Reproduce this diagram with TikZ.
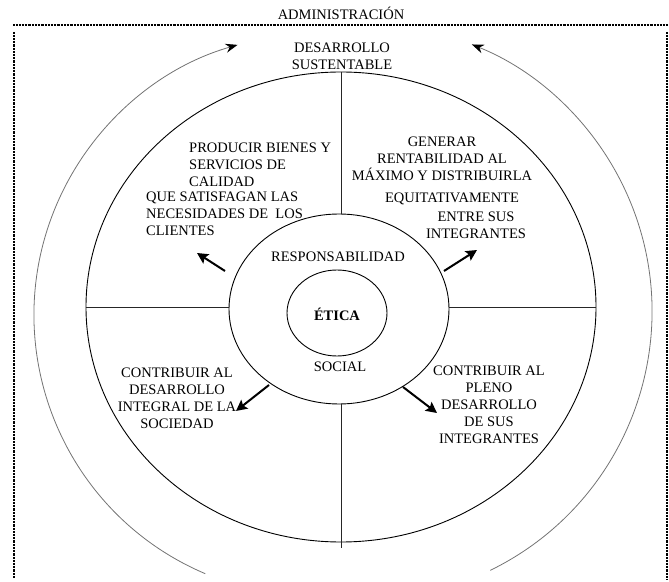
\documentclass[tikz,border=0pt]{standalone}
\usepackage{fontspec}
\setmainfont{Liberation Serif}
\usetikzlibrary{shapes.geometric,arrows.meta}
\begin{document}
\begin{tikzpicture}[x=1pt,y=1pt,
  lbl/.style={font=\fontsize{14.5}{17}\selectfont, inner sep=0pt, align=center},
  lbll/.style={font=\fontsize{14.5}{17}\selectfont, inner sep=0pt, align=left, anchor=west},
  ring/.style={draw=black, line width=0.9pt, ellipse, inner sep=0pt},
  divider/.style={draw=black!85, line width=0.9pt},
  frameline/.style={draw=black, line width=1.7pt, dash pattern=on 1pt off 0.45pt},
  cyclearc/.style={draw=black!55, line width=0.8pt, -{Stealth[length=12pt,width=9pt,black]}},
  outarrow/.style={draw=black, line width=2pt, -{Stealth[length=11pt,width=11pt,inset=2pt]}}
]
\useasboundingbox (0,0) rectangle (669,581);

% frame
\node[lbl] (admin) at (341,568) {ADMINISTRACIÓN};
\coordinate (ftl) at (13,556);
\coordinate (ftr) at (667,556);
\coordinate (fl1) at (14,549);
\coordinate (fl2) at (14,3);
\coordinate (fr1) at (667,549);
\coordinate (fr2) at (667,1);
\draw[frameline] (ftl) -- (ftr);
\draw[frameline] (fl1) -- (fl2);
\draw[frameline] (fr1) -- (fr2);

% outer cycle arcs
\coordinate (lc) at (315,266);
\coordinate (rc) at (364,269.5);
\path (lc) ++(247:281pt) coordinate (lArcS);
\path (rc) ++(-64:288pt) coordinate (rArcS);
\draw[cyclearc] (lArcS) arc[start angle=247, end angle=106, radius=281pt];
\draw[cyclearc] (rArcS) arc[start angle=-64, end angle=68, radius=288pt];

% ellipses
\node[ring, minimum width=510pt, minimum height=470pt] (outer) at (341,274) {};
\node[ring, minimum width=220pt, minimum height=190pt] (mid) at (339,272) {};
\node[ring, minimum width=100pt, minimum height=86pt] (inner) at (337,268) {};

% dividers
\coordinate (vbot) at (341,33);
\draw[divider] (outer.north) -- (outer.north |- mid.north);
\draw[divider] (outer.south |- mid.south) -- (vbot);
\draw[divider] (outer.west) -- (outer.west -| mid.west);
\draw[divider] (outer.east) -- (outer.east -| mid.east);

% labels
\node[lbl] (sust) at (342,525) {DESARROLLO\\SUSTENTABLE};
\node[lbll] (prod) at (189,416.5) {PRODUCIR BIENES Y\\SERVICIOS DE\\CALIDAD};
\node[lbll] (satis) at (146,367) {QUE SATISFAGAN LAS\\NECESIDADES DE\ \ LOS\\CLIENTES};
\node[lbl] (gen) at (442,422.5) {GENERAR\\RENTABILIDAD AL\\MÁXIMO Y DISTRIBUIRLA};
\node[lbl] (equi) at (452,382) {EQUITATIVAMENTE};
\node[lbl] (entre) at (476,356) {ENTRE SUS\\INTEGRANTES};
\node[lbl] (resp) at (338,324) {RESPONSABILIDAD};
\node[lbl, font=\fontsize{14.5}{17}\selectfont\bfseries] (etica) at (337,267) {ÉTICA};
\node[lbl] (social) at (340,214) {SOCIAL};
\node[lbl] (socied) at (177,183) {CONTRIBUIR AL\\DESARROLLO\\INTEGRAL DE LA\\SOCIEDAD};
\node[lbl] (pleno) at (489,176) {CONTRIBUIR AL\\PLENO\\DESARROLLO\\DE SUS\\INTEGRANTES};

% arrows out of the social ring
\coordinate (tlS) at (225,310);
\coordinate (tlE) at (197,328);
\coordinate (trS) at (444,310);
\coordinate (trE) at (477,331);
\coordinate (blS) at (269,196);
\coordinate (blE) at (236,170);
\coordinate (brS) at (403,194);
\coordinate (brE) at (437,168);
\draw[outarrow] (tlS) -- (tlE);
\draw[outarrow] (trS) -- (trE);
\draw[outarrow] (blS) -- (blE);
\draw[outarrow] (brS) -- (brE);
\end{tikzpicture}
\end{document}
